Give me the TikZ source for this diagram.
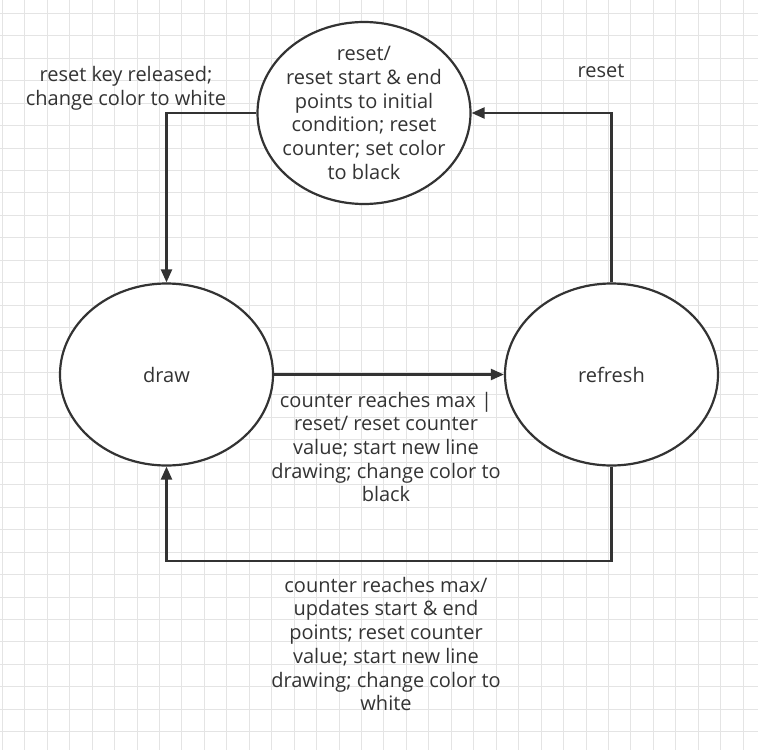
\documentclass[tikz,border=0pt]{standalone}
\usepackage{fontspec}
\setmainfont{Open Sans}
\usetikzlibrary{shapes.geometric,arrows.meta}

\definecolor{ink}{HTML}{333333}
\definecolor{gridgray}{HTML}{E4E4E4}

\tikzset{
  state/.style={ellipse, draw=ink, line width=2.2pt, fill=white,
    minimum width=213pt, minimum height=182pt, inner sep=-12pt,
    text=ink, align=center, font=\fontsize{20}{23.7}\selectfont},
  trans/.style={draw=ink, line width=2.2pt, -{Triangle[length=13pt,width=11pt]}},
  lbl/.style={text=ink, align=center, inner sep=0pt, font=\fontsize{20}{23.7}\selectfont}
}

\begin{document}
\begin{tikzpicture}[x=1pt, y=-1pt]
      \useasboundingbox (0,0) rectangle (758,750);
      % grid background
      \foreach \i in {0,...,33}
        \draw[gridgray, line width=1pt] (2.3+22.45*\i,0) -- (2.3+22.45*\i,750);
      \foreach \j in {0,...,33}
        \draw[gridgray, line width=1pt] (0,13.3+22.45*\j) -- (758,13.3+22.45*\j);
      % states
      \node[state] (reset) at (364,113) {reset/\\reset start \& end\\points to initial\\condition; reset\\counter; set color\\to black};
      \node[state] (draw) at (166.5,374.5) {draw};
      \node[state] (refresh) at (611.5,374.5) {refresh};
      % transitions
      \draw[trans] (reset.west) -| (draw.north);
      \draw[trans] (refresh.north) |- (reset.east);
      \draw[trans] (draw.east) -- (refresh.west);
      \draw[trans] (refresh.south) -- ++(0,94) -| (draw.south);
      % labels
      \node[lbl] (lblrelease) at (126,88) {reset key released;\\change color to white};
      \node[lbl] (lblreset) at (601,71) {reset};
      \node[lbl] (lblmax) at (386,447) {counter reaches max |\\reset/ reset counter\\value; start new line\\drawing; change color to\\black};
      \node[lbl] (lblupdate) at (386,644) {counter reaches max/\\updates start \& end\\points; reset counter\\value; start new line\\drawing; change color to\\white};
\end{tikzpicture}
\end{document}
